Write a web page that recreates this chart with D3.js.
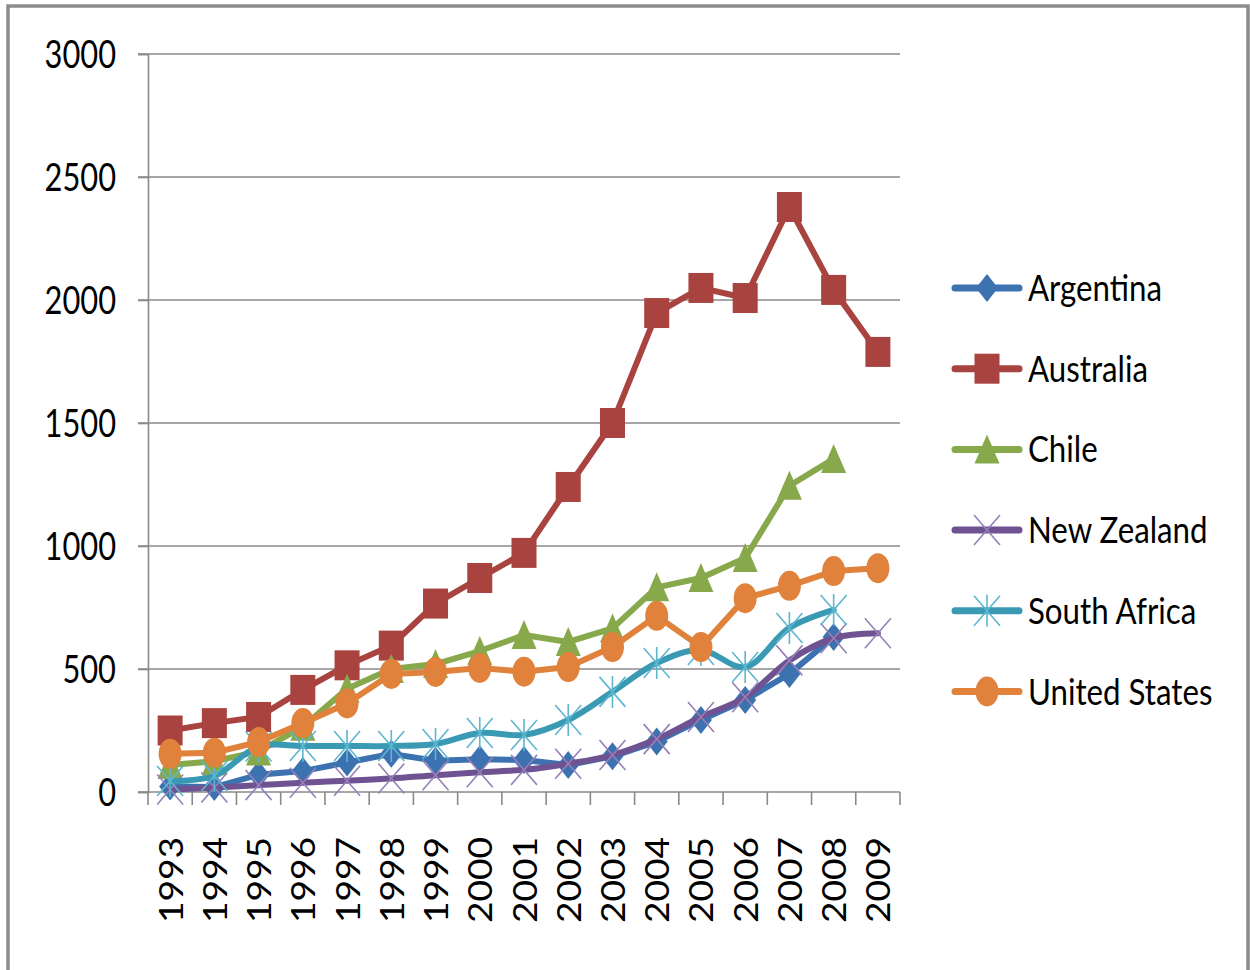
<!DOCTYPE html>
<html>
<head>
<meta charset="utf-8">
<script src="https://cdn.jsdelivr.net/npm/d3@7"></script>
<style>
  html, body { margin: 0; padding: 0; background: #ffffff; }
  svg { display: block; }
  text { font-family: Lato, "Open Sans", "DejaVu Sans", sans-serif; fill: #000; }
</style>
</head>
<body>
<svg id="chart" width="1250" height="970"></svg>
<script>
// ---- data -------------------------------------------------------------
const years = ["1993","1994","1995","1996","1997","1998","1999","2000","2001",
               "2002","2003","2004","2005","2006","2007","2008","2009"];
const yTicks = [0, 500, 1000, 1500, 2000, 2500, 3000];

const argentina    = [22, 20, 70, 85, 120, 155, 127, 133, 130, 110, 145, 205, 293, 374, 480, 630, null];
const australia    = [250, 280, 305, 415, 515, 595, 766, 870, 972, 1240, 1500, 1947, 2049, 2008, 2378, 2041, 1789];
const chile        = [110, 125, 165, 265, 420, 500, 520, 573, 638, 610, 665, 832, 870, 951, 1245, 1354, null];
const newZealand   = [10, 18, 28, 38, 46, 55, 68, 80, 90, 115, 150, 215, 305, 385, 535, 625, 645];
const southAfrica  = [45, 65, 185, 187, 187, 187, 195, 240, 232, 293, 407, 524, 577, 508, 667, 740, null];
const unitedStates = [155, 160, 203, 280, 360, 480, 488, 504, 489, 508, 589, 716, 589, 788, 838, 898, 910];

const seriesNames = ["Argentina", "Australia", "Chile", "New Zealand", "South Africa", "United States"];
const seriesValues = [argentina, australia, chile, newZealand, southAfrica, unitedStates];

// ---- styling ------------------------------------------------------------
const styles = {
  "Argentina":     { color: "#3d72b1", marker: "diamond",  mstroke: null,      curve: d3.curveLinear },
  "Australia":     { color: "#a8433f", marker: "square",   mstroke: null,      curve: d3.curveLinear },
  "Chile":         { color: "#88a94b", marker: "triangle", mstroke: null,      curve: d3.curveLinear },
  "New Zealand":   { color: "#6e5291", marker: "cross",    mstroke: "#9580b9", curve: d3.curveCatmullRom },
  "South Africa":  { color: "#3a9ab4", marker: "star",     mstroke: "#5cb6d0", curve: d3.curveCatmullRom },
  "United States": { color: "#e0823b", marker: "circle",   mstroke: null,      curve: d3.curveLinear }
};

const svg = d3.select("#chart");
const gridColor = "#8a8a8a";

// outer frame
svg.append("rect")
  .attr("x", 8).attr("y", 6).attr("width", 1240).attr("height", 990)
  .attr("fill", "none").attr("stroke", "#8c8c8c").attr("stroke-width", 3.5);

const plot = { left: 148, right: 900, top: 54, bottom: 792 };

const x = d3.scaleBand().domain(years).range([plot.left, plot.right]);
const y = d3.scaleLinear().domain([0, 3000]).range([plot.bottom, plot.top]);
const cx = yr => x(yr) + x.bandwidth() / 2;

// horizontal gridlines (with the small outward tick on the left)
svg.append("g").selectAll("line").data(yTicks.filter(v => v > 0)).join("line")
  .attr("x1", plot.left - 10).attr("x2", plot.right)
  .attr("y1", d => y(d)).attr("y2", d => y(d))
  .attr("stroke", gridColor).attr("stroke-width", 1.6);

// y axis
const yAxis = svg.append("g").attr("transform", `translate(${plot.left},0)`)
  .call(d3.axisLeft(y).tickValues(yTicks).tickSize(10).tickFormat(""));
yAxis.selectAll("path, line").attr("stroke", gridColor).attr("stroke-width", 1.6);

// x axis: baseline plus ticks on the category boundaries
const xAxis = svg.append("g");
xAxis.append("line")
  .attr("x1", plot.left - 10).attr("x2", plot.right)
  .attr("y1", y(0)).attr("y2", y(0))
  .attr("stroke", gridColor).attr("stroke-width", 1.6);
xAxis.selectAll("line.tick").data(years.map(x).concat([x.range()[1]])).join("line")
  .attr("class", "tick")
  .attr("x1", d => d).attr("x2", d => d)
  .attr("y1", y(0)).attr("y2", y(0) + 13)
  .attr("stroke", gridColor).attr("stroke-width", 1.6);

// helper that compresses text horizontally to a common narrow face
function narrow(sel, factor) {
  sel.each(function () {
    const w = this.getComputedTextLength();
    d3.select(this).attr("textLength", w * factor).attr("lengthAdjust", "spacingAndGlyphs");
  });
}

// y tick labels
const yLabels = svg.append("g").selectAll("text").data(yTicks).join("text")
  .attr("x", 116).attr("y", d => y(d) + 14)
  .attr("text-anchor", "end")
  .style("font-size", "39px")
  .text(d => d);
narrow(yLabels, 0.79);

// x tick labels, rotated
const xLabels = svg.append("g").selectAll("text").data(years).join("text")
  .attr("transform", d => `translate(${cx(d) + 12.5},837) rotate(-90)`)
  .attr("text-anchor", "end")
  .style("font-size", "32px")
  .text(d => d);
narrow(xLabels, 1.16);

// marker drawing
function drawMarker(g, kind, color, mstroke) {
  switch (kind) {
    case "diamond":
      g.append("path").attr("d", "M0,-14L11,0L0,14L-11,0Z").attr("fill", color);
      break;
    case "square":
      g.append("rect").attr("x", -12.5).attr("y", -15).attr("width", 25).attr("height", 30).attr("fill", color);
      break;
    case "triangle":
      g.append("path").attr("d", "M0,-15L12.5,14L-12.5,14Z").attr("fill", color);
      break;
    case "circle":
      g.append("ellipse").attr("rx", 11.5).attr("ry", 15).attr("fill", color);
      break;
    case "cross":
      g.append("path").attr("d", "M-13,-15L13,15M13,-15L-13,15")
        .attr("stroke", mstroke).attr("stroke-width", 1.6).attr("fill", "none");
      break;
    case "star":
      g.append("path").attr("d", "M-13,-15L13,15M13,-15L-13,15M0,-16L0,16")
        .attr("stroke", mstroke).attr("stroke-width", 1.6).attr("fill", "none");
      break;
  }
}

// series lines and markers
const seriesG = svg.append("g");
seriesNames.forEach((name, i) => {
  const st = styles[name];
  const pts = years.map((yr, j) => ({ yr, v: seriesValues[i][j] })).filter(d => d.v != null);
  const g = seriesG.append("g");
  const line = d3.line().x(d => cx(d.yr)).y(d => y(d.v)).curve(st.curve);
  g.append("path").datum(pts)
    .attr("d", line)
    .attr("fill", "none").attr("stroke", st.color)
    .attr("stroke-width", 6).attr("stroke-linejoin", "round").attr("stroke-linecap", "round");
  g.selectAll("g.m").data(pts).join("g")
    .attr("class", "m")
    .attr("transform", d => `translate(${cx(d.yr)},${y(d.v)})`)
    .each(function () { drawMarker(d3.select(this), st.marker, st.color, st.mstroke); });
});

// legend
const legend = svg.append("g");
const legendTop = 288, legendStep = 80.7;
seriesNames.forEach((name, i) => {
  const st = styles[name];
  const gy = legendTop + i * legendStep;
  const g = legend.append("g").attr("transform", `translate(0,${gy})`);
  g.append("line").attr("x1", 955).attr("x2", 1019).attr("y1", 0).attr("y2", 0)
    .attr("stroke", st.color).attr("stroke-width", 7).attr("stroke-linecap", "round");
  const m = g.append("g").attr("transform", "translate(987,0)");
  drawMarker(m, st.marker, st.color, st.mstroke);
  g.append("text").attr("x", 1028).attr("y", 13)
    .style("font-size", "37px")
    .text(name);
});
// compress legend text so "Argentina" spans its column width
const legendTexts = legend.selectAll("text");
const argW = legendTexts.nodes()[0].getComputedTextLength();
narrow(legendTexts, 134 / argW);
</script>
</body>
</html>
